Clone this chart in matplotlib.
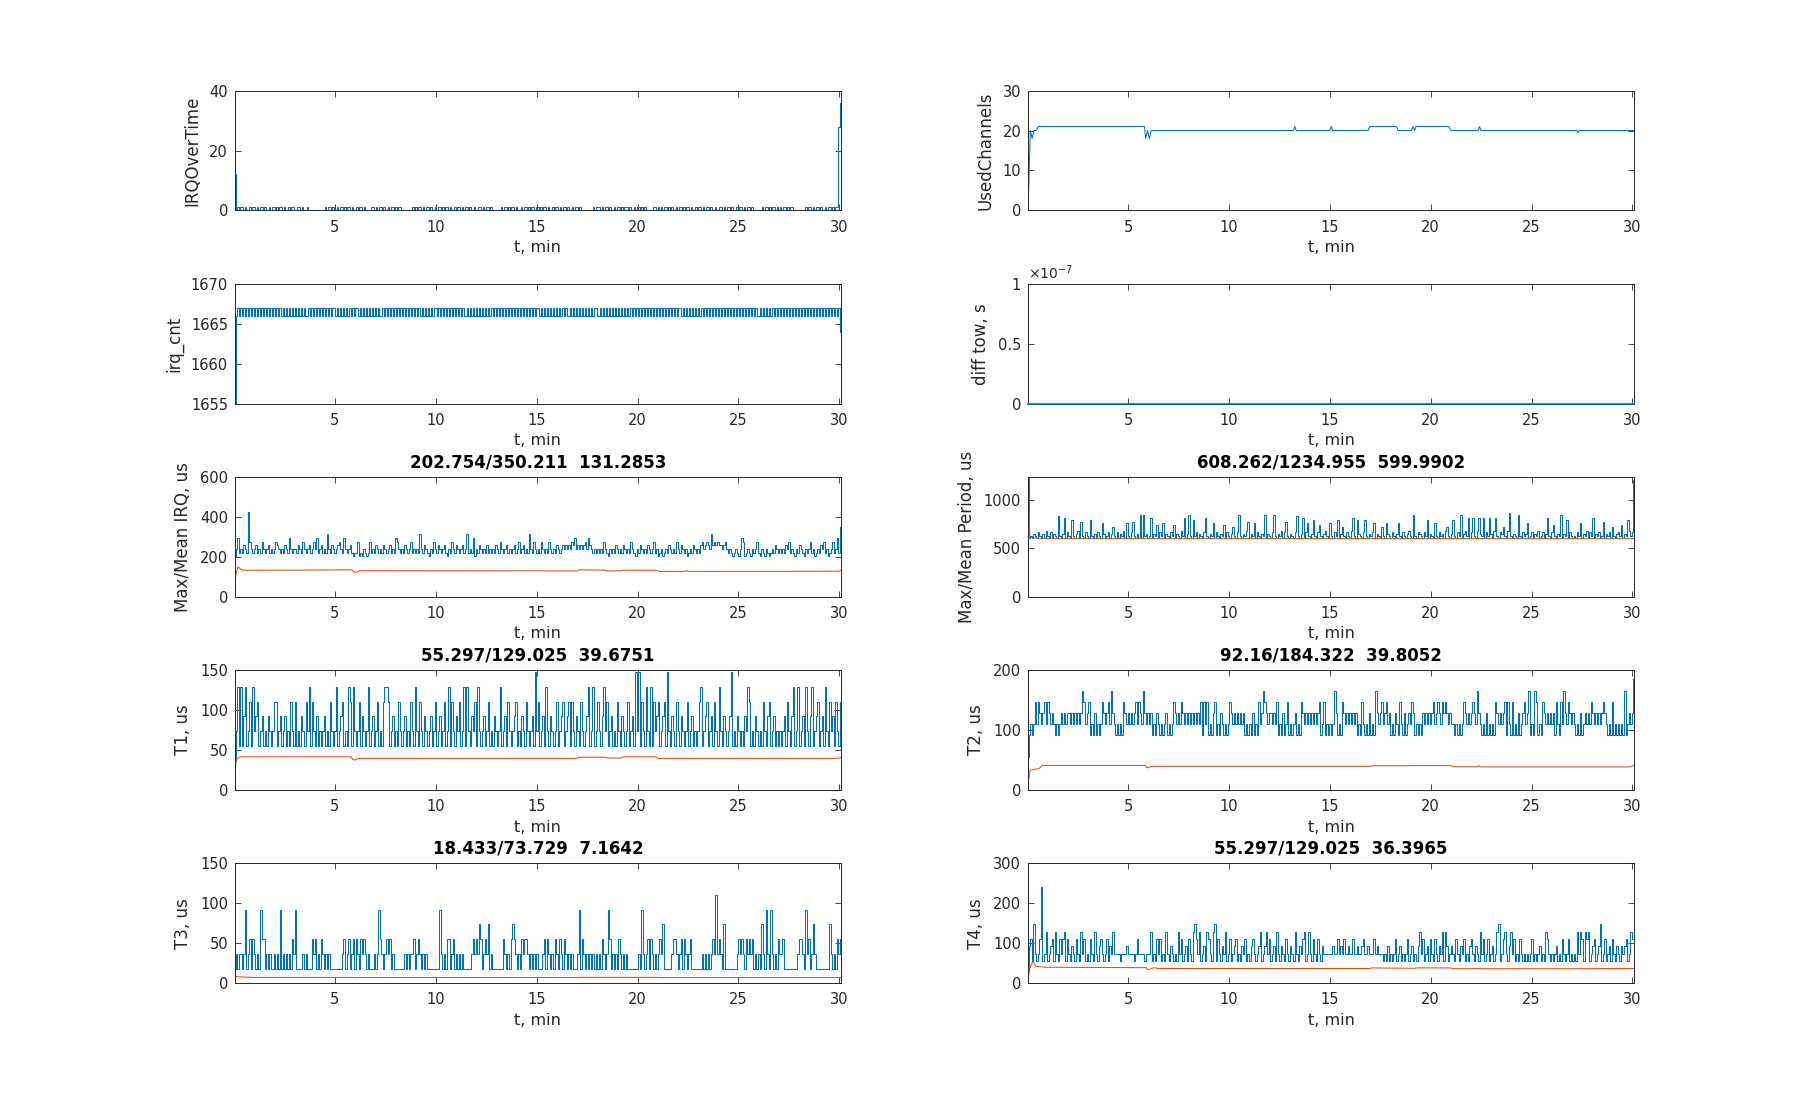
import numpy as np
import matplotlib
matplotlib.use("Agg")
import matplotlib.pyplot as plt

plt.rcParams['font.family'] = ['DejaVu Sans']

# ---------------- data ----------------
Q = 18.4322              # quantisation step of the timing counters, us
T_START, T_END = 0.05, 30.07   # minutes

def seq(chunks):
    """decode level strings (base-36 digits) into integer levels"""
    return [int(c, 36) for c in "".join(chunks).replace(" ", "")]

# IRQOverTime (counts)
irq_over_codes = [
    "0101101001 0110101101 0010110101 1010010110",
    "01101001 0000000000 0101101001011010110100",
    "1011010 000 11010110100101101011 0000000 101",
    "0110101101 0010110101 1010010110 1011010010",
    "0110101101 0000001011 0101101001 0110101101",
    "1010110100 1011010110 1001011010 0000000101",
    "1101011010 0101101011 0100101101 0100000110",
    "1010110101 0010110101 1010010110 1011010010",
    "0110101101 0010110101 1010000001 0110101101",
    "0101101011 0000000010 1101011010 0101101011",
]
irq_over_first = [12]
irq_over_last = [28, 36]

# irq_cnt (offset from 1660)
irq_cnt_codes = [
    "6767676767676767676767676767676767676767",
    "6767676676767676767676767767676767676767",
    "7676767676767676676767676767676767676767",
    "6767676767677676767676767676767667676767",
    "6767676767676767676767676767676767676767",
    "7676767676767676767667676767676767676776",
    "6767676767676767676767676767676767676767",
    "6767676767676776767676767676767676767676",
    "7676767676767676767676767667676767676767",
    "6767676767676767676767676767676767676767",
]
irq_cnt_first = [1655]
irq_cnt_last = [1664]

# Max IRQ (levels in units of Q)
irq_max_codes = [
    "bdgcdcedcn fdcdecdcfd cdecdcdfed cdcedcgdcd",
    "dcedcfdcde cdfdgcdecd chdcedcdef dcgdcdecbc",
    "cfbcbdcbcf cdcedcdced cdecdcgfdc dcedcdfcdc",
    "dchdcedcbd cfdcedcdec bdcfdcedcd ecdhcdcgbd",
    "cedcdcecdc dcedcfdcde cdcdecdfcd ecdchdcfdc",
    "dcfdcdcfdc dcedcdeded edfegdeded efdgedcdcd",
    "cdcfdcbdcd cedcdcedcd cfdcbdcedc dcedcdfcdb",
    "cdbcdcedcd cfdcedcdbc dcedcdcefd efedhefefe",
    "edefdcdcbc dcbdgfbcdc bdcdfcbdcb dcbcdcedcd",
    "cdcedfcdcb dcedcbdcdf cdbcdcedfc dbcdfcdgcj",
]
# Mean IRQ, us
irq_mean_t = [0.04, 0.1, 0.2, 0.35, 0.5, 5.85, 5.9, 6.0, 6.1, 6.25, 17.0, 17.1,
              18.4, 18.5, 19.2, 19.3, 20.95, 21.05, 22.4, 22.45, 22.55, 29.9, 30.07]
irq_mean = [40, 115, 150, 137, 133, 135, 128, 122, 124, 131, 130, 135,
            134, 130, 130, 133.5, 133, 127.5, 127.5, 131, 127.5, 128, 131]

# Max period (levels above 33*Q)
period_max_codes = [
    "y010210310 2041030210 c102b0310a 1024091031",
    "0a10203108 2013026103 0214081039 1020d0d120",
    "1b02170318 0210317021 041b02d10a 1302103b10",
    "2180310217 031026103d 1021490218 031021d021",
    "03d1021403 9102103c10 2b038102a1 0371024108",
    "1031a02610 3104b10a21 03a1021380 2106108210",
    "3102810310 2410d10321 031a021081 0312046102",
    "a1031d0241 b03b104b21 b031b204b1 0326104e10",
    "210d103128 0130214013 02b1037102 1d021a0310",
    "1031802140 31b0213019 0213061023 17021a413w",
]
period_mean_t = [0.06, 0.14, 0.6, 30.07]
period_mean = [1130, 612, 602, 600]

# T1 max (levels of Q)
t1_max_codes = [
    "2473735734 6374563453 4354346634 5345343643",
    "6343543647 3643534345 3436434734 5634376374",
    "3463543473 4534634367 7634534364 3453436437",
    "4364354345 3463453463 4736435463 4737435463",
    "7434534634 3543473453 6434563435 4364345384",
    "6345374354 3463456345 6364354364 3457347346",
    "4357463453 4364354346 3453848364 3743736456",
    "3456384354 3643543463 4534346734 5634536437",
    "4354345834 3543435476 3435434364 3563453434",
    "3453643573 4734537435 7345634537 4364536436",
]
t1_mean_t = [0.05, 0.1, 0.2, 0.35, 5.8, 5.9, 6.0, 6.15, 17.0, 17.1, 18.4, 18.5,
             19.2, 19.3, 20.9, 21.0, 29.9, 30.07]
t1_mean = [15, 37, 40, 41.5, 41.5, 38, 37.5, 39.5, 39.5, 41, 41, 40,
           40, 41.5, 41.5, 39.5, 39.5, 40.5]

# T3 max (levels of Q)
t3_max_codes = [
    "1212212512 3132121533 1212112121 5121212132",
    "5111121211 1323121321 2121111111 1231231231",
    "3213232121 1121253212 3231211111 1121212231",
    "2321212111 1111152121 3312312121 2111112323",
    "2431232412 1111111321 2134321213 2332121212",
    "1112313212 1321321321 2121112513 2121212121",
    "2132125312 1213212121 1111112152 1231321212",
    "3241111123 3212313212 3111111121 2121232623",
    "2141111111 1232321323 2312121421 5215212132",
    "2311111111 1233215231 2421111111 1142121323",
]
t3_mean_t = [0.05, 0.2, 1.0, 5.8, 6.0, 6.2, 17.0, 17.2, 21.0, 21.1, 30.07]
t3_mean = [9, 8, 7.3, 7.3, 6.9, 7.2, 7.2, 7.4, 7.4, 7.1, 7.1]

# T2 max (levels of Q)
t2_max_codes = [
    "3565686876 7868767656 5676767767 6767679867",
    "8565756568 7678697656 5658767676 7868769767",
    "6756576565 6756568767 6876767676 7676858685",
    "6578565765 6568767676 7675656575 6586798767",
    "7676856575 6856567565 8767676767 6785685656",
    "5697565876 7676767565 8656575659 7678678675",
    "6576586575 6768756565 7676767867 8768787676",
    "6565656876 7678769765 6575656587 6767858658",
    "5657567867 9565985658 7676767586 5869768767",
    "6565756767 6876767678 7656585656 565956767a",
]
t2_mean_t = [0.05, 0.15, 0.6, 0.75, 5.85, 5.95, 6.05, 6.2, 17.0, 17.1, 19.0, 19.2,
             21.0, 21.1, 22.3, 22.4, 22.5, 29.9, 30.07]
t2_mean = [11, 33, 36, 41, 41, 37, 38, 39.5, 39.5, 40.5, 40.5, 40.8,
           40.8, 38.8, 38.8, 40.5, 38.5, 38.5, 41]

# T4 max (levels of Q)
t4_max_codes = [
    "256384346d 3473456374 3646736435 4364374634",
    "3643743564 3463547444 4344454444 3464444344",
    "4734364634 3743543437 4634536437 8647345376",
    "4378364354 7346345634 3546343564 3457345746",
    "3453743543 6435437435 4673474364 3643544444",
    "4544645464 4544644544 5644544464 5444343534",
    "3463453434 6345343574 6345364364 3547375345",
    "4364354634 3564354374 6346345347 8346743574",
    "6343643434 3463434534 3764343453 4364346343",
    "4374763767 3456345834 6345364354 3545634766",
]
t4_mean_t = [0.05, 0.15, 0.28, 0.45, 1.0, 5.9, 6.0, 6.15, 6.3, 6.5, 17.0, 17.1,
             17.8, 19.2, 19.3, 21.0, 21.1, 22.4, 22.45, 22.5, 27.4, 27.45, 27.5, 30.07]
t4_mean = [10, 40, 54, 42, 40, 39, 34, 36.5, 39, 37, 37, 38.5,
           38, 37.5, 38.5, 38.3, 36.5, 36.5, 38, 36.5, 36.5, 38, 36.5, 37]

# UsedChannels
used_t = [0.05, 0.16, 0.25, 0.34, 0.45, 0.56, 5.82, 5.88, 5.97, 6.06, 6.15,
          13.2, 13.27, 13.34, 15.0, 15.07, 15.14, 16.9, 17.0, 18.3, 18.4,
          19.05, 19.12, 19.2, 19.27, 20.9, 21.0, 22.35, 22.42, 22.5,
          27.25, 27.3, 27.35, 30.07]
used_ch = [0, 20, 18, 20, 20, 21, 21, 18, 20, 18, 20,
           20, 21, 20, 20, 21, 20, 20, 21, 21, 20,
           20, 21, 20, 21, 21, 20, 20, 21, 20,
           20, 19.5, 20, 20]

# diff tow, s
diff_tow_t = [T_START, T_END]
diff_tow = [0.0, 0.0]

# ---------------- build series ----------------
irq_over_time = irq_over_first + seq(irq_over_codes) + irq_over_last
irq_cnt = irq_cnt_first + [1660 + v for v in seq(irq_cnt_codes)] + irq_cnt_last
irq_max = [Q * v for v in seq(irq_max_codes)]
period_max = [Q * (33 + v) for v in seq(period_max_codes)]
t1_max = [Q * v for v in seq(t1_max_codes)]
t2_max = [Q * v for v in seq(t2_max_codes)]
t3_max = [Q * v for v in seq(t3_max_codes)]
t4_max = [Q * v for v in seq(t4_max_codes)]

def tgrid(series):
    return np.linspace(T_START, T_END, len(series))

# ---------------- figure ----------------
BLUE = '#0072BD'
ORANGE = '#D95319'
AXC = '#262626'

fig = plt.figure(figsize=(18.03, 11.19), dpi=100)
fig.patch.set_facecolor('white')

LX, RX, W, H = 0.1303, 0.5702, 0.336, 0.1072
BOTTOMS = [0.8119, 0.6393, 0.4666, 0.2940, 0.1213]


def make_ax(col, row, ylim, yticks, ylabel, title=None, yticklabels=None):
    ax = fig.add_axes([LX if col == 0 else RX, BOTTOMS[row], W, H])
    ax.set_xlim(T_START, T_END)
    ax.set_xticks([5, 10, 15, 20, 25, 30])
    ax.set_ylim(*ylim)
    ax.set_yticks(yticks)
    if yticklabels is not None:
        ax.set_yticklabels(yticklabels)
    for s in ax.spines.values():
        s.set_color(AXC)
        s.set_linewidth(0.7)
    ax.tick_params(direction='in', top=True, right=True, length=4, width=0.6,
                   colors=AXC, labelsize=10.5)
    ax.tick_params(axis='x', pad=6.5)
    ax.tick_params(axis='y', pad=5)
    ax.set_xlabel('t, min', fontsize=11.5, color=AXC, labelpad=4)
    ax.set_ylabel(ylabel, fontsize=12, color=AXC, labelpad=5.5)
    if title:
        ax.set_title(title, fontsize=12, fontweight='bold', color='black', pad=7)
    return ax

LW = 0.75
STEP = 'steps-mid'

def plot_dense(ax, series):
    ax.plot(tgrid(series), series, color=BLUE, lw=LW, drawstyle=STEP)

# left column
ax = make_ax(0, 0, (0, 40), [0, 20, 40], 'IRQOverTime')
plot_dense(ax, irq_over_time)

ax = make_ax(0, 1, (1655, 1670), [1655, 1660, 1665, 1670], 'irq_cnt')
plot_dense(ax, irq_cnt)

ax = make_ax(0, 2, (0, 600), [0, 200, 400, 600], 'Max/Mean IRQ, us',
             '202.754/350.211  131.2853')
plot_dense(ax, irq_max)
ax.plot(irq_mean_t, irq_mean, color=ORANGE, lw=LW)

ax = make_ax(0, 3, (0, 150), [0, 50, 100, 150], 'T1, us',
             '55.297/129.025  39.6751')
plot_dense(ax, t1_max)
ax.plot(t1_mean_t, t1_mean, color=ORANGE, lw=LW)

ax = make_ax(0, 4, (0, 150), [0, 50, 100, 150], 'T3, us',
             '18.433/73.729  7.1642')
plot_dense(ax, t3_max)
ax.plot(t3_mean_t, t3_mean, color=ORANGE, lw=LW)

# right column
ax = make_ax(1, 0, (0, 30), [0, 10, 20, 30], 'UsedChannels')
ax.plot(used_t, used_ch, color=BLUE, lw=LW)

ax = make_ax(1, 1, (0, 1e-7), [0, 0.5e-7, 1e-7], 'diff tow, s',
             yticklabels=['0', '0.5', '1'])
ax.plot(diff_tow_t, diff_tow, color=BLUE, lw=1.2, clip_on=False, zorder=3)
ax.text(0.0, 1.015, r'$\times10^{-7}$', transform=ax.transAxes,
        ha='left', va='bottom', fontsize=10, color=AXC)

ax = make_ax(1, 2, (0, 1234.955), [0, 500, 1000], 'Max/Mean Period, us',
             '608.262/1234.955  599.9902')
plot_dense(ax, period_max)
ax.plot(period_mean_t, period_mean, color=ORANGE, lw=LW)

ax = make_ax(1, 3, (0, 200), [0, 100, 200], 'T2, us',
             '92.16/184.322  39.8052')
plot_dense(ax, t2_max)
ax.plot(t2_mean_t, t2_mean, color=ORANGE, lw=LW)

ax = make_ax(1, 4, (0, 300), [0, 100, 200, 300], 'T4, us',
             '55.297/129.025  36.3965')
plot_dense(ax, t4_max)
ax.plot(t4_mean_t, t4_mean, color=ORANGE, lw=LW)

fig.savefig('out.png', dpi=100, facecolor='white')
